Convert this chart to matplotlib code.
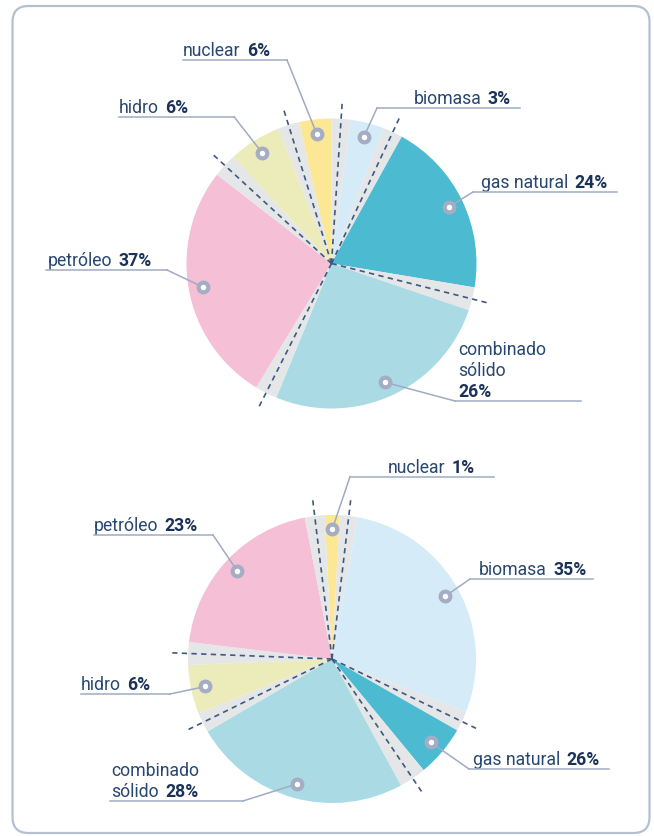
import matplotlib
matplotlib.use('Agg')
import numpy as np
import matplotlib.pyplot as plt
from matplotlib.patches import FancyBboxPatch

plt.rcParams['font.family'] = ['Roboto', 'DejaVu Sans']

W, H = 654, 836

# colores por categoría
colors = {
    'nuclear': '#fce795',
    'biomasa': '#d5ebf7',
    'gas natural': '#4cbbd2',
    'combinado sólido': '#aadbe5',
    'petróleo': '#f5bfd6',
    'hidro': '#ececba',
}
GAP_COLOR = '#e4e6e8'

# gráfico de arriba (en sentido horario desde arriba)
# "\n" final = el porcentaje va en su propia línea
top_names = ['nuclear', 'biomasa', 'gas natural', 'combinado\nsólido\n', 'petróleo', 'hidro']
top_pct = [6, 3, 24, 26, 37, 6]
top_sweep = [13, 13.4, 70.5, 93.6, 96.5, 21.1]   # grados
top_gaps = [7.6, 8, 9.3, 8.9, 9.6, 8.5]

# gráfico de abajo
bot_names = ['nuclear', 'biomasa', 'gas natural', 'combinado\nsólido', 'hidro', 'petróleo']
bot_pct = [1, 35, 26, 28, 6, 23]
bot_sweep = [6, 101.4, 20.8, 88.4, 19.7, 72.3]
bot_gaps = [7.2, 8, 10.9, 8.1, 9.2, 8]

# posición de las etiquetas (píxeles, y desde arriba): x texto, y subrayado, x0, x1, lado del codo
top_layout = [
    (183, 60, 183, 287, 'right'),
    (414, 108, 377, 520, 'left'),
    (481, 192, 473, 617, 'left'),
    (458, 401, 455, 581, 'left'),
    (48, 270, 46, 167, 'right'),
    (119, 116.7, 119, 234, 'right'),
]
bot_layout = [
    (388, 476.7, 350, 494, 'left'),
    (479, 579, 470, 593, 'left'),
    (473, 769, 469, 609, 'left'),
    (111, 801, 110, 243, 'right'),
    (81, 694, 81, 170, 'right'),
    (94, 535, 94, 213, 'right'),
]

TXT = '#284770'
TXT_B = '#1a3258'
LEADER = '#a0abc3'
RING = '#a5adc5'
DASH = '#3d5a80'
FS = 12.7
LINE_H = 21


def py(y):
    return H - y


def draw_label(ax, x, uy, name, pct):
    parts = name.split('\n')
    base = uy - 4
    last = parts[-1]
    if last:
        t = ax.text(x, py(base), last, fontsize=FS, color=TXT, va='baseline', ha='left')
        ax.annotate(f'{pct}%', xy=(1, 0), xycoords=t, xytext=(4.5, 0),
                    textcoords='offset points', fontsize=FS, color=TXT_B,
                    fontweight='bold', va='bottom', ha='left')
    else:
        ax.text(x, py(base), f'{pct}%', fontsize=FS, color=TXT_B,
                fontweight='bold', va='baseline', ha='left')
    for k, line in enumerate(reversed(parts[:-1]), start=1):
        ax.text(x, py(base - k * LINE_H), line, fontsize=FS, color=TXT,
                va='baseline', ha='left')


def draw_pie(ax, names, pct, sweep, gaps, cx, cy, r, start, layout):
    vals, cols = [], []
    for n, s, g in zip(names, sweep, gaps):
        vals += [s, g]
        cols += [colors[' '.join(n.split())], GAP_COLOR]
    wedges, _ = ax.pie(vals, colors=cols, startangle=start, counterclock=False,
                       center=(cx, py(cy)), radius=r, normalize=True,
                       wedgeprops=dict(linewidth=0))
    c = np.array([cx, py(cy)])
    # líneas discontinuas en los huecos
    for w in wedges[1::2]:
        a = np.deg2rad((w.theta1 + w.theta2) / 2)
        p = c + 1.11 * r * np.array([np.cos(a), np.sin(a)])
        ax.plot([c[0], p[0]], [c[1], p[1]], color=DASH, lw=1.2,
                linestyle=(0, (3.2, 2.6)), zorder=3)
    # marcadores y etiquetas
    for w, n, p_, lay in zip(wedges[0::2], names, pct, layout):
        a = np.deg2rad((w.theta1 + w.theta2) / 2)
        m = c + 0.9 * r * np.array([np.cos(a), np.sin(a)])
        tx, uy, x0, x1, side = lay
        ex = x1 if side == 'right' else x0
        ax.plot([x0, x1], [py(uy), py(uy)], color=LEADER, lw=1.1, zorder=4)
        ax.plot([ex, m[0]], [py(uy), m[1]], color=LEADER, lw=1.1, zorder=4)
        ax.plot(m[0], m[1], 'o', ms=7, mfc='white', mec=RING, mew=3, zorder=5)
        draw_label(ax, tx, uy, n, p_)


fig = plt.figure(figsize=(W / 100, H / 100), dpi=100)
ax = fig.add_axes([0, 0, 1, 1])

draw_pie(ax, top_names, top_pct, top_sweep, top_gaps, 331.5, 263.5, 145, 103, top_layout)
draw_pie(ax, bot_names, bot_pct, bot_sweep, bot_gaps, 332, 659, 144, 92.9, bot_layout)

frame = FancyBboxPatch((12.5, py(833)), 637, 827, boxstyle='round,pad=0,rounding_size=16',
                       fc='none', ec='#b4c0d2', lw=1.6, zorder=0)
ax.add_patch(frame)

ax.set_xlim(0, W)
ax.set_ylim(0, H)
ax.set_aspect('equal')
ax.axis('off')

fig.savefig('out.png', dpi=100)
